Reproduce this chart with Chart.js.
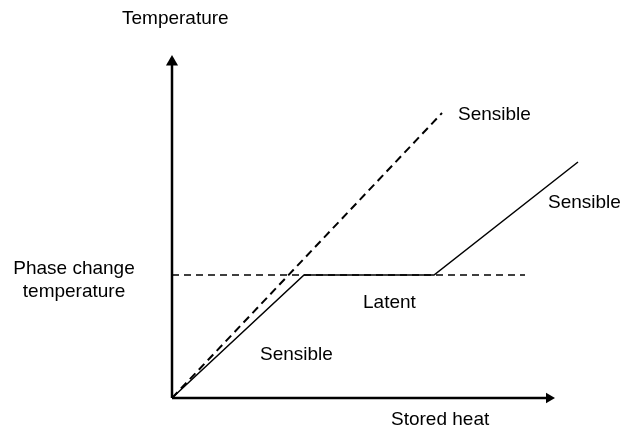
<!DOCTYPE html>
<html>
<head>
<meta charset="utf-8">
<script src="https://cdn.jsdelivr.net/npm/chart.js@4"></script>
<style>
  html, body { margin: 0; padding: 0; background: #fff; }
  #wrap { width: 623px; height: 428px; }
</style>
</head>
<body>
<div id="wrap"><canvas id="grafico"></canvas></div>
<script>
// stored heat (x) / temperature (y), arbitrary units
var pcmHeat = [0, 132, 262, 406];
var pcmTemp = [0, 123, 123, 236];
var sensHeat = [0, 270];
var sensTemp = [0, 285];
var phaseHeat = [0, 353];
var phaseTemp = [123, 123];
var yAxisHeat = [0, 0];
var yAxisTemp = [0, 336];
var xAxisHeat = [0, 377];
var xAxisTemp = [0, 0];

function pts(xs, ys) {
	var out = [];
	for (var i = 0; i < xs.length; i++) {
		out.push({ x: xs[i], y: ys[i] });
	}
	return out;
}

// textos do esquema
var rotulos = {
	id: 'rotulos',
	afterDraw: function(chart) {
		var ctx = chart.ctx;
		var sx = chart.scales.x, sy = chart.scales.y;
		ctx.save();
		ctx.fillStyle = '#000';
		ctx.font = '19px "Liberation Sans", Arial, sans-serif';
		ctx.textBaseline = 'middle';
		ctx.textAlign = 'left';
		ctx.fillText('Temperature', 122, 19);
		ctx.fillText('Stored heat', 391, 420);
		ctx.textAlign = 'center';
		ctx.fillText('Phase change', 74, 269);
		ctx.fillText('temperature', 74, 292);
		ctx.textAlign = 'left';
		ctx.fillText('Sensible', sx.getPixelForValue(286), sy.getPixelForValue(283));
		ctx.fillText('Sensible', sx.getPixelForValue(376), sy.getPixelForValue(195));
		ctx.fillText('Latent', sx.getPixelForValue(191), sy.getPixelForValue(95));
		ctx.fillText('Sensible', sx.getPixelForValue(88), sy.getPixelForValue(43));
		ctx.restore();
	}
};

var ctx = document.getElementById('grafico');
var chart = new Chart(ctx, {
	type: 'scatter',
	data: {
		datasets: [{
			data: pts(pcmHeat, pcmTemp),
			showLine: true,
			borderColor: '#000',
			borderWidth: 1.5,
			pointRadius: 0
		}, {
			data: pts(sensHeat, sensTemp),
			showLine: true,
			borderColor: '#000',
			borderWidth: 2,
			borderDash: [8, 5],
			pointRadius: 0
		}, {
			data: pts(phaseHeat, phaseTemp),
			showLine: true,
			borderColor: '#000',
			borderWidth: 1.6,
			borderDash: [7, 5],
			pointRadius: 0
		}, {
			data: pts(yAxisHeat, yAxisTemp),
			showLine: true,
			borderColor: '#000',
			backgroundColor: '#000',
			borderWidth: 2.5,
			pointStyle: 'triangle',
			pointRadius: [0, 7],
			pointBorderWidth: 0
		}, {
			data: pts(xAxisHeat, xAxisTemp),
			showLine: true,
			borderColor: '#000',
			backgroundColor: '#000',
			borderWidth: 2.5,
			pointStyle: 'triangle',
			pointRotation: 90,
			pointRadius: [0, 6],
			pointBorderWidth: 0
		}]
	},
	options: {
		responsive: true,
		maintainAspectRatio: false,
		animation: false,
		layout: { padding: { left: 172, right: 41, top: 62, bottom: 30 } },
		elements: { line: { tension: 0 } },
		clip: false,
		scales: {
			x: { type: 'linear', display: false, min: 0, max: 410 },
			y: { type: 'linear', display: false, min: 0, max: 336 }
		},
		plugins: {
			legend: { display: false },
			tooltip: { enabled: false }
		}
	},
	plugins: [rotulos]
});
</script>
</body>
</html>
